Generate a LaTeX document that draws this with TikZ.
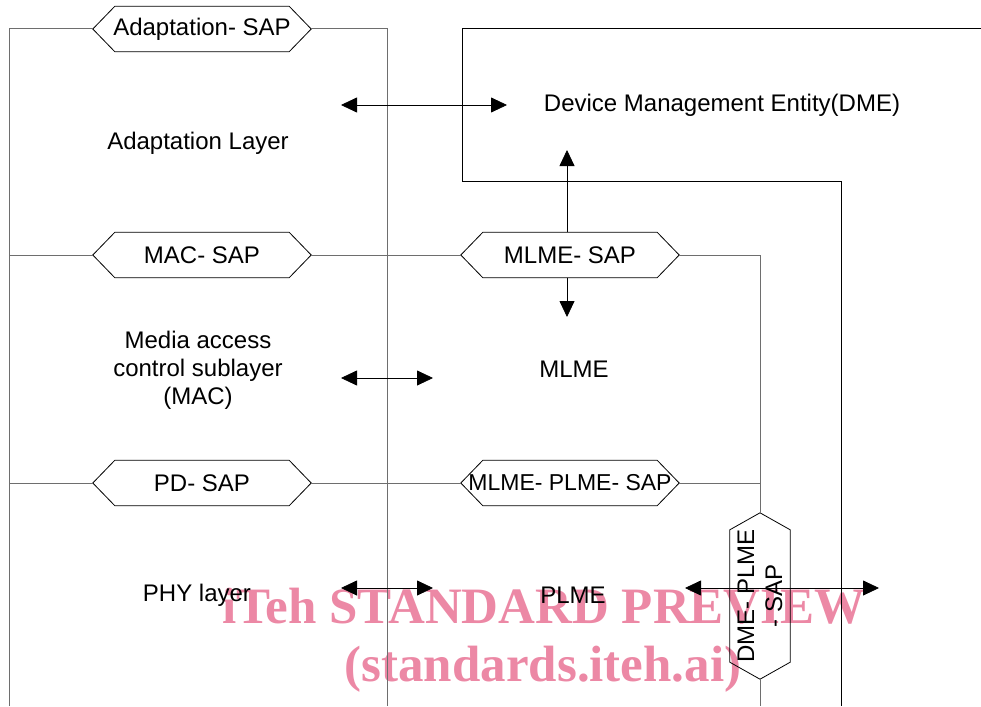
\documentclass[tikz,border=0pt]{standalone}
\usepackage{fontspec}
\setmainfont{Liberation Sans}
\newfontfamily\wmfont{Liberation Serif}
\usetikzlibrary{arrows.meta,calc}
\definecolor{wmpink}{RGB}{236,136,165}
\definecolor{lgray}{RGB}{110,110,110}
\begin{document}
\begin{tikzpicture}[x=1pt,y=-1pt,
  lbl/.style={font=\fontsize{24}{28}\selectfont, inner sep=0pt, align=center},
  hexa/.style={lbl, minimum width=218pt, minimum height=45pt},
  gline/.style={draw=lgray, line width=1pt},
  bline/.style={draw=black, line width=1pt},
  hexline/.style={draw=black, line width=0.8pt},
  dbl/.style={line width=0.8pt, {Triangle[length=16pt,width=15pt]}-{Triangle[length=16pt,width=15pt]}},
  sgl/.style={line width=0.8pt, -{Triangle[length=16pt,width=15pt]}},
  wm/.style={font=\wmfont\bfseries\fontsize{51}{60}\selectfont, text=wmpink, anchor=base, inner sep=0pt}
]
\useasboundingbox (0,0) rectangle (981,706);

% watermark
\node[wm] (wm1) at (544,623) {iTeh STANDARD PREVIEW};
\node[wm] (wm2) at (543,681) {(standards.iteh.ai)};

% SAP hexagons
\node[hexa] (asap) at (202,29) {Adaptation- SAP};
\node[hexa] (macsap) at (202,255) {MAC- SAP};
\node[hexa] (mlmesap) at (570,255) {MLME- SAP};
\node[hexa] (pdsap) at (202,483) {PD- SAP};
\node[hexa, font=\fontsize{23}{28}\selectfont] (mpsap) at (570,483) {MLME- PLME- SAP};
\foreach \n in {asap,macsap,mlmesap,pdsap,mpsap}
  \draw[hexline] (\n.west) -- ($(\n.north west)+(22,0)$) -- ($(\n.north east)+(-22,0)$)
    -- (\n.east) -- ($(\n.south east)+(-22,0)$) -- ($(\n.south west)+(22,0)$) -- cycle;

\node[lbl, rotate=90, minimum width=166pt, minimum height=60pt] (dps) at (760,596) {DME- PLME\\- SAP};
\draw[hexline] (dps.east) -- ($(dps.north east)!17pt!(dps.north west)$)
  -- ($(dps.north west)!17pt!(dps.north east)$) -- (dps.west)
  -- ($(dps.south west)!17pt!(dps.south east)$) -- ($(dps.south east)!17pt!(dps.south west)$) -- cycle;

% text labels
\node[lbl] (adl) at (198,143) {Adaptation Layer};
\node[lbl] (dme) at (722,105) {Device Management Entity(DME)};
\node[lbl] (mac) at (198,370) {Media access\\control sublayer\\(MAC)};
\node[lbl] (mlme) at (574,369) {MLME};
\node[lbl] (phy) at (197,595) {PHY layer};
\node[lbl] (plme) at (573,595) {PLME};

% frame lines
\draw[gline] (9,706) -- (9,29) -- (asap.west);
\draw[gline] (asap.east) -- (387,29) -- (387,706);
\draw[bline] (981,29) -- (462,29) -- (462,181) -- (841,181) -- (841,706);

\draw[gline] (9,255) -- (macsap.west);
\draw[gline] (macsap.east) -- (mlmesap.west);
\draw[gline] (mlmesap.east) -- (760,255) -- (dps.east);
\draw[gline] (dps.west) -- (760,706);

\draw[gline] (9,483) -- (pdsap.west);
\draw[gline] (pdsap.east) -- (mpsap.west);
\draw[gline] (mpsap.east) -- (760,483);

% arrows
\coordinate (a1l) at (341,105);
\coordinate (a1r) at (507,105);
\draw[dbl] (a1l) -- (a1r);
\coordinate (dmeup) at (567,150);
\draw[sgl] (mlmesap.north -| dmeup) -- (dmeup);
\coordinate (mlmedn) at (567,317);
\draw[sgl] (mlmesap.south -| mlmedn) -- (mlmedn);
\coordinate (a2l) at (341,378);
\coordinate (a2r) at (433,378);
\draw[dbl] (a2l) -- (a2r);
\coordinate (a3l) at (341,588);
\coordinate (a3r) at (433,588);
\draw[dbl] (a3l) -- (a3r);
\coordinate (a4l) at (685,588);
\coordinate (a4r) at (879,588);
\draw[dbl] (a4l) -- (a4r);
\end{tikzpicture}
\end{document}
